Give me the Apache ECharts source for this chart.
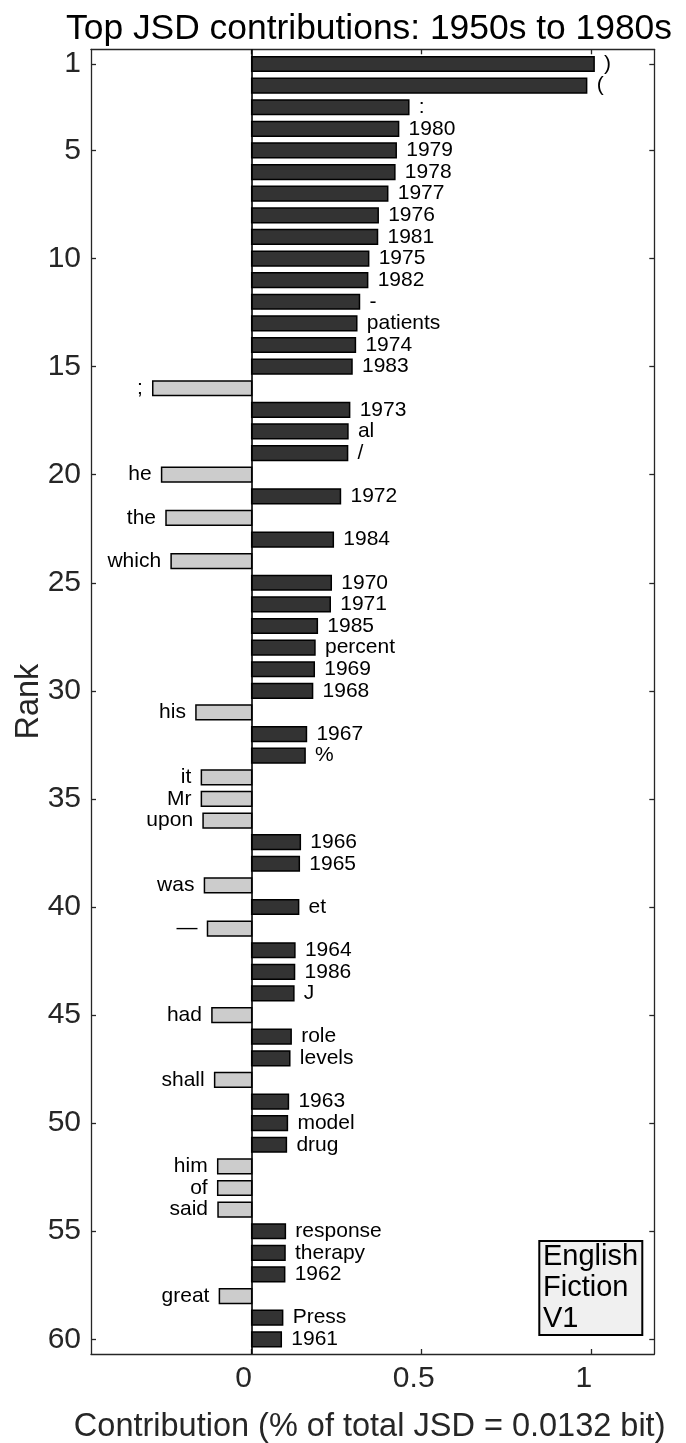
<!DOCTYPE html>
<html>
<head>
<meta charset="utf-8">
<script src="https://cdn.jsdelivr.net/npm/echarts@6/dist/echarts.min.js"></script>
<style>
html,body{margin:0;padding:0;background:#fff;}
#c{width:686px;height:1443px;}
</style>
</head>
<body>
<div id="c"></div>
<script>
// ---- data ----
const words = [')','(',':','1980','1979','1978','1977','1976','1981','1975',
  '1982','-','patients','1974','1983',';','1973','al','/','he',
  '1972','the','1984','which','1970','1971','1985','percent','1969','1968',
  'his','1967','%','it','Mr','upon','1966','1965','was','et',
  '—','1964','1986','J','had','role','levels','shall','1963','model',
  'drug','him','of','said','response','therapy','1962','great','Press','1961'];
const contributions = [1.007,0.985,0.462,0.432,0.425,0.421,0.400,0.372,0.370,0.344,
  0.341,0.317,0.309,0.305,0.295,-0.291,0.288,0.283,0.282,-0.265,
  0.261,-0.252,0.240,-0.237,0.234,0.231,0.193,0.186,0.184,0.179,
  -0.164,0.161,0.157,-0.148,-0.148,-0.143,0.143,0.140,-0.139,0.138,
  -0.130,0.127,0.126,0.124,-0.117,0.116,0.112,-0.109,0.108,0.105,
  0.102,-0.100,-0.100,-0.099,0.099,0.098,0.097,-0.095,0.091,0.087];
const yTicks = [1,5,10,15,20,25,30,35,40,45,50,55,60];
const xTicks = [0,0.5,1];
const titleText = 'Top JSD contributions: 1950s to 1980s';
const xLabel = 'Contribution (% of total JSD = 0.0132 bit)';
const yLabel = 'Rank';
const boxText = ['English','Fiction','V1'];

const FONT = 'Liberation Sans, Arial, Helvetica, sans-serif';
const AX = '#262626';
const data = contributions.map((v, i) => [v, i + 1]);

const chart = echarts.init(document.getElementById('c'), null, {renderer: 'canvas'});

const axisCommon = {
  type: 'value',
  axisLine: {show: true, onZero: false, lineStyle: {color: AX, width: 1.3}},
  splitLine: {show: false}
};

chart.setOption({
  animation: false,
  backgroundColor: '#fff',
  title: {
    text: titleText,
    left: 364, top: 7, textAlign: 'center',
    textStyle: {fontFamily: FONT, fontSize: 35.4, fontWeight: 'normal', color: '#000'}
  },
  grid: {left: 91, right: 31.7, top: 49.3, bottom: 89, containLabel: false, outerBoundsMode: 'none'},
  xAxis: [
    Object.assign({}, axisCommon, {
      position: 'bottom', min: -0.4726, max: 1.184,
      axisTick: {show: true, inside: true, length: 5, customValues: xTicks, lineStyle: {color: AX, width: 1.3}},
      axisLabel: {customValues: xTicks, fontFamily: FONT, fontSize: 30, color: AX, margin: 10,
        padding: [0, 16, 0, 0], formatter: v => String(v)},
      name: xLabel, nameLocation: 'middle', nameGap: 57, nameMoveOverlap: false,
      nameTextStyle: {fontFamily: FONT, fontSize: 32.5, color: AX, padding: [0, 6, 0, 0]}
    }),
    Object.assign({}, axisCommon, {
      position: 'top', min: -0.4726, max: 1.184,
      axisTick: {show: true, inside: true, length: 5, customValues: xTicks, lineStyle: {color: AX, width: 1.3}},
      axisLabel: {show: false}
    })
  ],
  yAxis: [
    Object.assign({}, axisCommon, {
      position: 'left', inverse: true, min: 0.32, max: 60.68,
      axisTick: {show: true, inside: true, length: 5, customValues: yTicks, lineStyle: {color: AX, width: 1.3}},
      axisLabel: {customValues: yTicks, fontFamily: FONT, fontSize: 30, color: AX, margin: 10},
      name: yLabel, nameLocation: 'middle', nameRotate: 90, nameGap: 45, nameMoveOverlap: false,
      nameTextStyle: {fontFamily: FONT, fontSize: 32.5, color: AX}
    }),
    Object.assign({}, axisCommon, {
      position: 'right', inverse: true, min: 0.32, max: 60.68,
      axisTick: {show: true, inside: true, length: 5, customValues: yTicks, lineStyle: {color: AX, width: 1.3}},
      axisLabel: {show: false}
    })
  ],
  series: [{
    type: 'custom',
    xAxisIndex: 0, yAxisIndex: 0,
    data: data,
    encode: {x: 0, y: 1},
    renderItem: function (params, api) {
      const v = api.value(0), r = api.value(1);
      const p0 = api.coord([0, r]);
      const p1 = api.coord([v, r]);
      const h = api.size([0, 1])[1] * 0.68;
      const pos = v >= 0;
      return {
        type: 'group',
        children: [{
          type: 'rect',
          shape: {x: Math.min(p0[0], p1[0]), y: p0[1] - h / 2, width: Math.abs(p1[0] - p0[0]), height: h},
          style: {fill: pos ? '#333333' : '#cccccc', stroke: '#000', lineWidth: 1.5}
        }, {
          type: 'text',
          style: {
            x: p1[0] + (pos ? 10 : -10), y: p0[1],
            text: words[params.dataIndex],
            align: pos ? 'left' : 'right', verticalAlign: 'middle',
            font: '21px ' + FONT, fill: '#000'
          }
        }]
      };
    },
    markLine: {
      silent: true, symbol: 'none', z: 10,
      label: {show: false},
      lineStyle: {color: '#000', width: 1.6, type: 'solid'},
      data: [{xAxis: 0}]
    },
    z: 2
  }],
  graphic: [{
    type: 'rect', z: 20,
    shape: {x: 539.3, y: 1241, width: 103, height: 94},
    style: {fill: '#f0f0f0', stroke: '#000', lineWidth: 2}
  }, {
    type: 'text', z: 21,
    style: {x: 543, y: 1288, text: boxText.join('\n'), font: '29px ' + FONT,
      lineHeight: 31, fill: '#000', align: 'left', verticalAlign: 'middle'}
  }]
});
</script>
</body>
</html>
